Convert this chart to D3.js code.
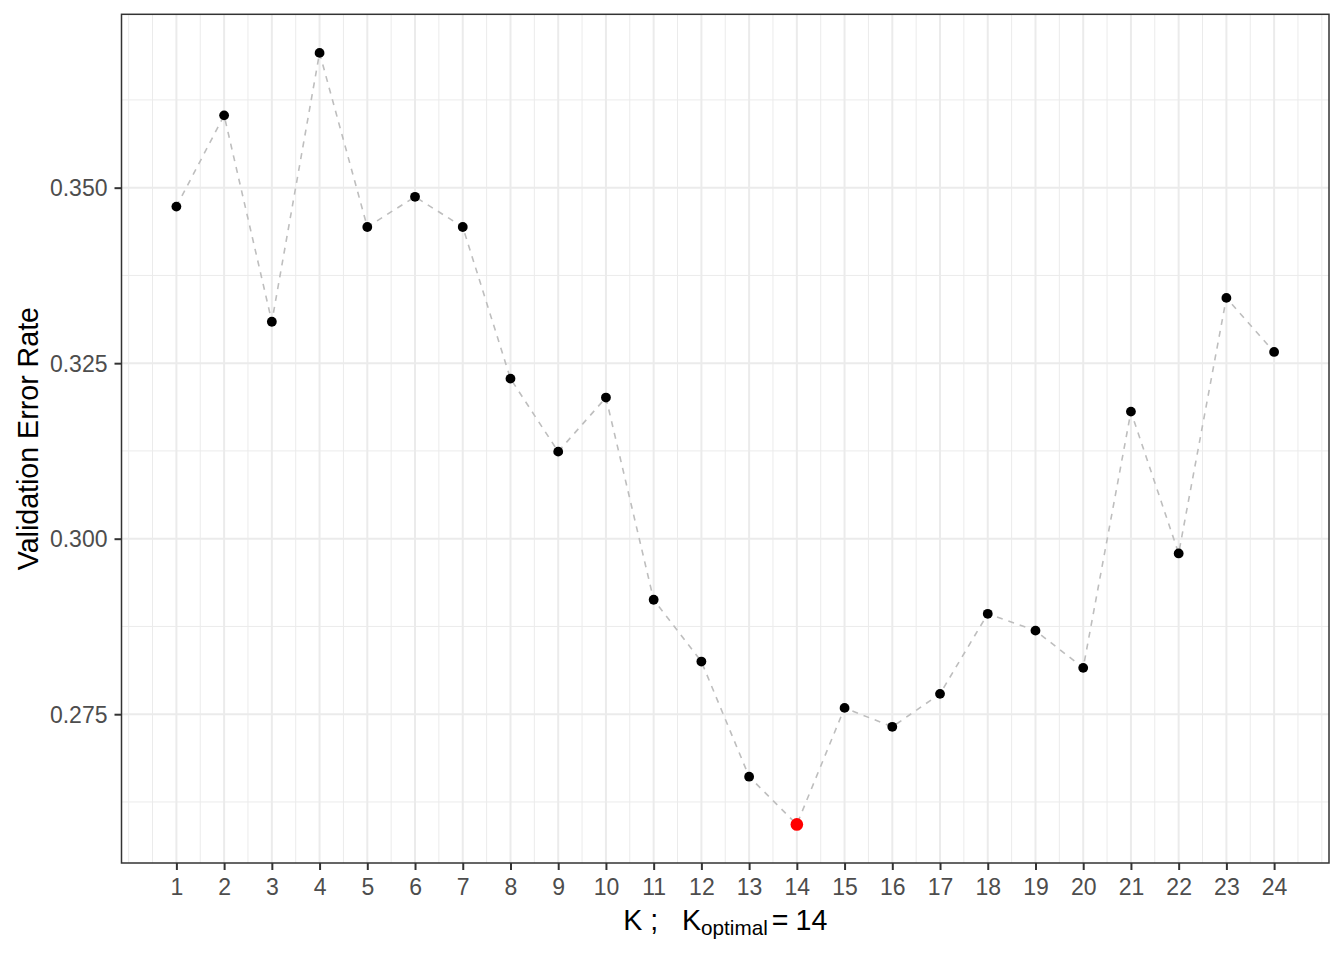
<!DOCTYPE html>
<html>
<head>
<meta charset="utf-8">
<script src="https://cdn.jsdelivr.net/npm/d3@7"></script>
<style>
  body { margin: 0; background: #fff; }
  text { font-family: "Liberation Sans", Arial, sans-serif; }
</style>
</head>
<body>
<svg></svg>
<script>
// values
const kValues = d3.range(1, 25);
const errorRates = [0.3473, 0.3603, 0.3309, 0.3692, 0.3444, 0.3487, 0.3444, 0.3228,
                    0.3124, 0.3201, 0.2913, 0.2825, 0.2661, 0.2593, 0.2759, 0.2732,
                    0.2779, 0.2893, 0.2869, 0.2816, 0.3181, 0.2979, 0.3343, 0.3266];
const yTicks = [0.275, 0.300, 0.325, 0.350];
const yMinor = [0.2625, 0.2875, 0.3125, 0.3375, 0.3625];
const xMinor = [0].concat(d3.range(0.5, 25, 1)).concat([25]);
const kOptimal = 14;

const data = kValues.map((k, i) => ({k: k, err: errorRates[i]}));

const width = 1344;
const height = 960;
const pLeft = 121.5, pRight = 1329, pTop = 14.3, pBottom = 863;

const svg = d3.select('svg')
                .attr("width", width)
                .attr("height", height);

// ggplot style 5% expansion
const xSpan = 24 - 1;
const xScale = d3.scaleLinear()
                .domain([1 - xSpan * 0.05, 24 + xSpan * 0.05])
                .range([pLeft, pRight]);

const ext = d3.extent(errorRates);
const ySpan = ext[1] - ext[0];
const yScale = d3.scaleLinear()
                .domain([ext[0] - ySpan * 0.05, ext[1] + ySpan * 0.05])
                .range([pBottom, pTop]);

const grid = svg.append("g");

grid.selectAll(".vminor")
  .data(xMinor)
  .enter().append("line")
    .attr("x1", d => xScale(d)).attr("x2", d => xScale(d))
    .attr("y1", pTop).attr("y2", pBottom)
    .attr("stroke", "#ebebeb").attr("stroke-width", 1);

grid.selectAll(".hminor")
  .data(yMinor)
  .enter().append("line")
    .attr("y1", d => yScale(d)).attr("y2", d => yScale(d))
    .attr("x1", pLeft).attr("x2", pRight)
    .attr("stroke", "#ebebeb").attr("stroke-width", 1);

grid.selectAll(".vmajor")
  .data(kValues)
  .enter().append("line")
    .attr("x1", d => xScale(d)).attr("x2", d => xScale(d))
    .attr("y1", pTop).attr("y2", pBottom)
    .attr("stroke", "#ebebeb").attr("stroke-width", 2);

grid.selectAll(".hmajor")
  .data(yTicks)
  .enter().append("line")
    .attr("y1", d => yScale(d)).attr("y2", d => yScale(d))
    .attr("x1", pLeft).attr("x2", pRight)
    .attr("stroke", "#ebebeb").attr("stroke-width", 2);

// dashed connecting line
const line = d3.line()
  .x(d => xScale(d.k))
  .y(d => yScale(d.err));

svg.append("path")
  .datum(data)
  .attr("d", line)
  .attr("fill", "none")
  .attr("stroke", "#bebebe")
  .attr("stroke-width", 1.6)
  .attr("stroke-dasharray", "6,6");

svg.append("g")
  .selectAll("circle")
    .data(data)
    .enter()
    .append("circle")
    .attr("cx", d => xScale(d.k))
    .attr("cy", d => yScale(d.err))
    .attr("r", d => d.k === kOptimal ? 6.3 : 4.9)
    .attr("fill", d => d.k === kOptimal ? "#ff0000" : "#000000");

// panel border
svg.append("rect")
  .attr("x", pLeft).attr("y", pTop)
  .attr("width", pRight - pLeft).attr("height", pBottom - pTop)
  .attr("fill", "none")
  .attr("stroke", "#333333")
  .attr("stroke-width", 1.5);

const xAxis = d3.axisBottom(xScale)
                .tickValues(kValues)
                .tickSize(7)
                .tickPadding(9)
                .tickFormat(d3.format("d"));

const yAxis = d3.axisLeft(yScale)
                .tickValues(yTicks)
                .tickSize(7)
                .tickPadding(7)
                .tickFormat(d3.format(".3f"));

const gx = svg.append("g")
  .attr('transform', `translate(0,${pBottom})`)
  .call(xAxis);

const gy = svg.append('g')
    .attr('transform', `translate(${pLeft}, 0)`)
    .call(yAxis);

[gx, gy].forEach(g => {
  g.select(".domain").remove();
  g.selectAll(".tick line").attr("stroke", "#333333").attr("stroke-width", 2);
  g.selectAll(".tick text")
    .attr("fill", "#4d4d4d")
    .style("font-size", "23px")
    .style("font-family", '"Liberation Sans", Arial, sans-serif');
});
gy.selectAll(".tick text").attr("dy", "0.36em");

svg.append("text")
  .attr("transform", "rotate(-90)")
  .attr("x", 0 - (pTop + pBottom) / 2)
  .attr("y", 38)
  .style("text-anchor", "middle")
  .style("font-size", "28.6px")
  .attr("fill", "#000")
  .text("Validation Error Rate");

// x title: K ;   K_optimal = 14
const xt = svg.append("text")
  .attr("x", (pLeft + pRight) / 2)
  .attr("y", 930)
  .style("text-anchor", "middle")
  .style("font-size", "28.6px")
  .style("white-space", "pre")
  .attr("fill", "#000");
xt.append("tspan").text("K ;   K");
xt.append("tspan").attr("dy", 5).style("font-size", "20.7px").text("optimal");
xt.append("tspan").attr("dy", -5).attr("dx", 4).text("=");
xt.append("tspan").attr("dx", 7).text(String(kOptimal));
</script>
</body>
</html>
